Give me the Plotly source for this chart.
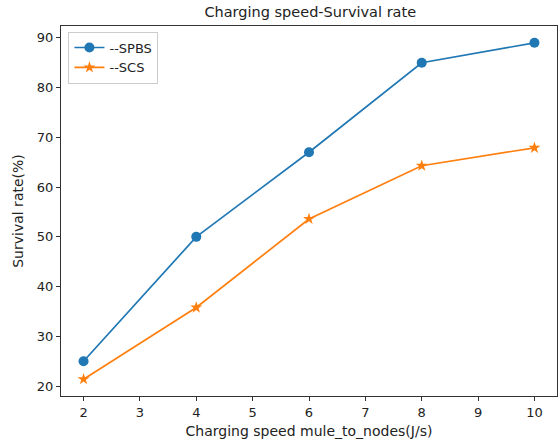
import plotly.graph_objects as go

speed = [2, 4, 6, 8, 10]
spbs = [25, 50, 67, 85, 89]
scs = [21.4, 35.8, 53.6, 64.3, 67.9]
x_ticks = [2, 3, 4, 5, 6, 7, 8, 9, 10]
y_ticks = [20, 30, 40, 50, 60, 70, 80, 90]

FONT = "DejaVu Sans"

fig = go.Figure()
fig.add_trace(go.Scatter(x=speed, y=spbs, mode="lines+markers", name="--SPBS",
                         line=dict(color="#1f77b4", width=1.7),
                         marker=dict(symbol="circle", size=10, color="#1f77b4")))
fig.add_trace(go.Scatter(x=speed, y=scs, mode="lines+markers", name="--SCS",
                         line=dict(color="#ff7f0e", width=1.7),
                         marker=dict(symbol="star", size=9, color="#ff7f0e")))

axis_common = dict(showgrid=False, zeroline=False, showline=True, linecolor="#333333",
                   linewidth=1.2, mirror=True, ticks="outside", ticklen=4, tickwidth=1,
                   tickcolor="#333333", tickfont=dict(family=FONT, size=13, color="#222222"))

fig.update_layout(
    width=559, height=444,
    margin=dict(l=61, r=2, t=26, b=48),
    paper_bgcolor="white", plot_bgcolor="white",
    font=dict(family=FONT, color="#222222"),
    title=dict(text="Charging speed-Survival rate", x=0.555, xanchor="center",
               y=0.984, yanchor="top", font=dict(family=FONT, size=14.5, color="#222222")),
    xaxis=dict(range=[1.6, 10.4], tickvals=x_ticks,
               title=dict(text="Charging speed mule_to_nodes(J/s)", font=dict(family=FONT, size=14), standoff=7),
               **axis_common),
    yaxis=dict(range=[18.02, 92.38], tickvals=y_ticks,
               title=dict(text="Survival rate(%)", font=dict(family=FONT, size=14), standoff=9),
               **axis_common),
    legend=dict(x=0.015, y=0.985, xanchor="left", yanchor="top",
                bordercolor="#cccccc", borderwidth=1, bgcolor="rgba(255,255,255,0.8)",
                font=dict(family=FONT, size=13, color="#222222"),
                tracegroupgap=0, itemwidth=30),
    showlegend=True,
)

fig.write_html("out.html")
